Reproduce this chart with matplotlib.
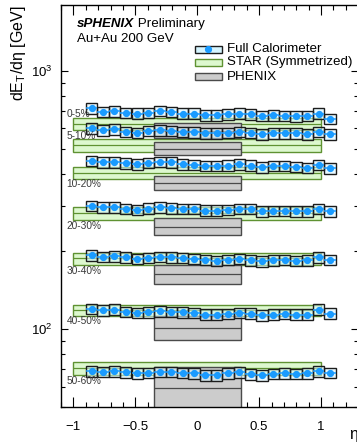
import numpy as np
import matplotlib
matplotlib.use('Agg')
import matplotlib.pyplot as plt
from matplotlib.patches import Rectangle
from matplotlib.lines import Line2D
from matplotlib.ticker import LogLocator, MultipleLocator, NullFormatter, FuncFormatter

plt.rcParams['font.family'] = ['Liberation Sans', 'DejaVu Sans']

# Daten
eta = [-0.852, -0.760, -0.669, -0.577, -0.485, -0.394, -0.302, -0.210, -0.119, -0.027, 0.065,
       0.156, 0.248, 0.340, 0.431, 0.523, 0.615, 0.706, 0.798, 0.890, 0.981, 1.073]
bin_w = 0.0917
centralities = ['0-5%', '5-10%', '10-20%', '20-30%', '30-40%', '40-50%', '50-60%']

calo_0_5 = [716, 694, 699, 688, 684, 688, 701, 694, 684, 684, 674,
            674, 680, 684, 679, 670, 674, 670, 668, 670, 684, 653]
calo_5_10 = [599, 590, 594, 581, 576, 585, 590, 587, 581, 578, 573,
             573, 576, 581, 576, 568, 573, 573, 573, 569, 581, 568]
calo_10_20 = [449, 443, 443, 439, 435, 441, 445, 443, 435, 433, 429,
              429, 430, 435, 430, 424, 429, 429, 426, 422, 433, 420]
calo_20_30 = [300, 297, 297, 292, 290, 293, 296, 294, 292, 292, 288,
              288, 290, 292, 292, 286, 287, 287, 286, 286, 292, 286]
calo_30_40 = [193.1, 190.4, 191.4, 189.7, 187.0, 188.7, 190.4, 189.7, 188.7, 187.0, 185.8,
              184.2, 185.8, 187.0, 184.7, 183.0, 184.7, 185.8, 184.2, 184.7, 189.7, 185.8]
calo_40_50 = [119.9, 118.4, 119.2, 116.8, 115.7, 116.3, 117.4, 116.8, 116.3, 115.7, 114.0,
              114.0, 114.7, 115.7, 115.0, 113.3, 114.0, 114.7, 114.0, 114.0, 119.2, 115.0]
calo_50_60 = [68.84, 68.47, 68.84, 68.23, 67.45, 67.87, 68.47, 68.47, 67.87, 67.45, 66.44,
              66.44, 67.45, 68.23, 66.85, 66.26, 67.27, 67.45, 67.27, 67.45, 68.84, 67.87]
calo_rows = [calo_0_5, calo_5_10, calo_10_20, calo_20_30, calo_30_40, calo_40_50, calo_50_60]
calo_sys = 0.047  # relative

star_cent = [622, 516, 402, 281, 188, 118.5, 70.5]
star_lo = [590, 487, 381, 265, 178, 113, 66.3]
star_hi = [655, 543, 424, 297, 198, 124.6, 74.6]

phenix_cent = [587, 500, 368, 249, 163, 101, 59]
phenix_lo = [550, 471, 346, 231, 150, 91.2, 49]
phenix_hi = [626, 531, 392, 269, 178, 112.2, 71.1]

label_y = [680, 560, 365, 252, 168.5, 107.4, 63.0]

blue = '#1a9bff'
calo_fill = '#d6f5ff'
star_fill = '#ddf8cf'
star_edge = '#5f9232'
ph_fill = '#cccccc'
ph_edge = '#4a4a4a'

fig = plt.figure(figsize=(3.57, 4.42), dpi=100)
ax = fig.add_axes([0.1709, 0.0792, 0.8326, 0.9095])
ax.set_yscale('log')

# STAR
star_lo_a = np.array(star_lo)
star_hi_a = np.array(star_hi)
ax.bar(np.zeros(7), star_hi_a - star_lo_a, bottom=star_lo_a, width=2.0,
       color=star_fill, edgecolor=star_edge, linewidth=1.0, zorder=1)
ax.hlines(star_cent, -1, 1, color=star_edge, linewidth=0.9, zorder=1.1)

# PHENIX
ph_lo_a = np.array(phenix_lo)
ph_hi_a = np.array(phenix_hi)
ax.bar(np.zeros(7), ph_hi_a - ph_lo_a, bottom=ph_lo_a, width=0.7,
       color=ph_fill, edgecolor=ph_edge, linewidth=1.0, zorder=2)
ax.hlines(phenix_cent, -0.35, 0.35, color=ph_edge, linewidth=0.9, zorder=2.1)

# Full Calorimeter
eta_a = np.array(eta)
for row in calo_rows:
    v = np.array(row)
    ax.bar(eta_a, 2 * calo_sys * v, bottom=v * (1 - calo_sys), width=bin_w,
           color=calo_fill, alpha=0.55, edgecolor='none', zorder=3)
    ax.bar(eta_a, 2 * calo_sys * v, bottom=v * (1 - calo_sys), width=bin_w,
           fill=False, edgecolor='#1c1c1c', linewidth=1.0, zorder=3.1)
    ax.errorbar(eta_a, v, xerr=bin_w / 2, fmt='o', color=blue, ms=4.2,
                lw=1.1, capsize=0, zorder=4)

for lab, yv in zip(centralities, label_y):
    ax.text(-1.055, yv, lab, va='center', ha='left', fontsize=7.3, color='#3a3a3a', zorder=5)

ax.set_xlim(-1.1, 1.3)
ax.set_ylim(50, 1800)

ax.xaxis.set_major_locator(MultipleLocator(0.5))
ax.xaxis.set_minor_locator(MultipleLocator(0.1))
ax.xaxis.set_major_formatter(FuncFormatter(lambda x, p: ('%g' % x).replace('-', '\u2212')))
ax.yaxis.set_major_locator(LogLocator(base=10))
ax.yaxis.set_minor_locator(LogLocator(base=10, subs=np.arange(2, 10)))
ax.yaxis.set_minor_formatter(NullFormatter())

ax.tick_params(axis='both', which='both', direction='in', top=True, right=True,
               width=0.8, labelsize=9.5)
ax.tick_params(axis='x', which='major', length=7.2, pad=10)
ax.tick_params(axis='x', which='minor', length=3.8)
ax.tick_params(axis='y', which='major', length=5.2, pad=6)
ax.tick_params(axis='y', which='minor', length=3.0)
for s in ax.spines.values():
    s.set_linewidth(1.0)

ax.set_ylabel('dE$_\\mathregular{T}$/d\u03b7 [GeV]', loc='top', fontsize=11.5, labelpad=2)
ax.set_xlabel('\u03b7', loc='right', fontsize=11.5)
ax.xaxis.set_label_coords(1.0, -0.05)

# Beschriftung
t1 = ax.text(0.053, 0.946, 'sPHENIX', transform=ax.transAxes, fontsize=9.6,
             fontweight='bold', fontstyle='italic', va='baseline')
ax.annotate(' Preliminary', xy=(1, 0), xycoords=t1, fontsize=9.6, va='bottom', ha='left')
ax.text(0.053, 0.907, 'Au+Au 200 GeV', transform=ax.transAxes, fontsize=9.6, va='baseline')

# Legende (manuell)
leg_y = [0.890, 0.857, 0.822]
leg_txt = ['Full Calorimeter', 'STAR (Symmetrized)', 'PHENIX']
leg_fc = [calo_fill, star_fill, ph_fill]
leg_ec = ['#1c1c1c', star_edge, ph_edge]
for yy, txt, fc, ec in zip(leg_y, leg_txt, leg_fc, leg_ec):
    ax.add_patch(Rectangle((0.451, yy - 0.0087), 0.09, 0.0174, transform=ax.transAxes,
                           facecolor=fc, edgecolor=ec, linewidth=1.0, zorder=6))
    ax.text(0.557, yy, txt, transform=ax.transAxes, fontsize=9.6, va='center', zorder=6)
ax.add_line(Line2D([0.496], [leg_y[0]], transform=ax.transAxes, marker='o', ms=4.2,
                   color=blue, linestyle='none', zorder=7))

fig.savefig('out.png', dpi=100)
